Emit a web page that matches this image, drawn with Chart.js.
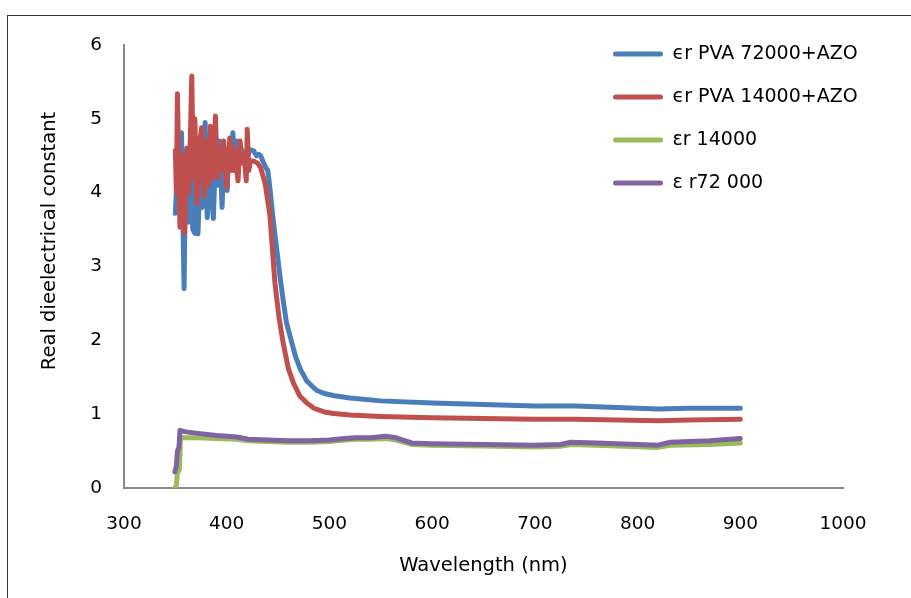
<!DOCTYPE html>
<html>
<head>
<meta charset="utf-8">
<script src="https://cdn.jsdelivr.net/npm/chart.js@4.4.1/dist/chart.umd.min.js"></script>
<style>
  html, body { margin: 0; padding: 0; background: #fff; overflow: hidden; }
  #frame { position: absolute; left: 7px; top: 15px; width: 960px; height: 640px; border: 1px solid #333; }
  #wrap { position: absolute; left: 0; top: 0; width: 911px; height: 598px; }
</style>
</head>
<body>
<div id="frame"></div>
<div id="wrap"><canvas id="c" width="911" height="598"></canvas></div>
<script>
const seriesLabels = ['\u03f5r PVA 72000+AZO', '\u03f5r PVA 14000+AZO', '\u03b5r 14000', '\u03b5 r72 000'];
const seriesColors = ['#4A7EBB', '#C0504D', '#9BBB59', '#8064A2'];
const xTickValues = [300, 400, 500, 600, 700, 800, 900, 1000];
const yTickValues = [0, 1, 2, 3, 4, 5, 6];

const blueX = [350,352,354,356,357,358.5,360,361.5,363,365,367,369,370.5,372,374,376,377.5,379,381,383,385,387,389,391,393,395.5,397,399,400.5,402,404,406,408,410,412,414,416,418,420,423,426,429,431,433,436,438,440,442,445,449,452,455,458,462,467,472,478,483,488,495,505,520,550,600,650,700,740,780,820,850,900];
const blueY = [3.72,4.3,4.5,4.81,3.9,2.70,4.4,4.6,3.6,4.3,3.5,3.45,4.5,3.44,4.2,3.8,4.6,4.95,3.66,4.4,4.0,3.65,4.5,4.1,4.7,3.8,4.5,4.3,4.03,4.6,4.4,4.81,4.3,4.7,4.4,4.6,4.45,4.55,4.5,4.58,4.57,4.5,4.52,4.5,4.4,4.34,4.3,4.07,3.66,3.2,2.85,2.54,2.25,2.04,1.78,1.6,1.45,1.38,1.32,1.28,1.25,1.22,1.18,1.15,1.13,1.11,1.11,1.09,1.07,1.08,1.08];

const redX = [350,351,352,353.5,354.5,356,357.5,359,361,363,364.5,366,367.5,369,371,373,375.5,377,378,380,382,384,386,387.5,389,391,393,395,397,400,403,405,407,409,411,413,415,417,419,420,421.5,423,426,430,433,437.5,442,447,451,455,460,465,471,478,485,495,504,520,550,600,650,700,740,780,820,850,900];
const redY = [4.57,4.0,5.34,4.2,3.53,4.5,3.6,3.45,4.6,4.0,4.7,5.58,4.2,5.0,3.85,4.6,4.88,4.2,3.95,4.7,4.1,4.9,4.2,4.5,5.04,4.2,4.6,4.3,4.7,4.07,4.74,4.3,4.6,4.4,4.16,4.7,4.4,4.5,4.16,4.86,4.3,4.43,4.43,4.4,4.34,4.12,3.7,2.77,2.3,1.96,1.62,1.42,1.25,1.15,1.08,1.03,1.01,0.99,0.97,0.95,0.94,0.93,0.93,0.92,0.91,0.92,0.93];

const greenX = [350,351,352,354,355,372,390,410,421,440,460,480,500,515,525,540,555,565,580,600,650,700,725,735,760,800,820,832,870,900];
const greenY = [0.0,0.05,0.2,0.25,0.68,0.68,0.67,0.66,0.64,0.63,0.62,0.62,0.63,0.65,0.66,0.66,0.67,0.65,0.59,0.58,0.57,0.555,0.565,0.59,0.58,0.56,0.55,0.58,0.59,0.61];

const purpleX = [349.5,351,352,353.5,354.5,360,372,390,410,421,440,460,480,500,515,525,540,555,565,580,600,650,700,725,735,760,800,820,832,870,900];
const purpleY = [0.22,0.3,0.5,0.55,0.78,0.76,0.74,0.71,0.69,0.66,0.65,0.64,0.64,0.65,0.67,0.68,0.68,0.70,0.68,0.61,0.60,0.59,0.58,0.59,0.62,0.61,0.59,0.58,0.62,0.64,0.67];

function pts(xs, ys) { return xs.map((x, i) => ({ x: x, y: ys[i] })); }

const allX = [blueX, redX, greenX, purpleX];
const allY = [blueY, redY, greenY, purpleY];
const drawOrder = [4, 3, 2, 1];
const FONT = '"DejaVu Sans"';

const datasets = seriesLabels.map((lab, i) => ({
  label: lab,
  data: pts(allX[i], allY[i]),
  borderColor: seriesColors[i],
  backgroundColor: seriesColors[i],
  borderWidth: 5,
  borderJoinStyle: 'round',
  borderCapStyle: 'round',
  pointRadius: 0,
  tension: 0,
  order: drawOrder[i]
}));

const legendMover = {
  id: 'legendMover',
  afterLayout(chart) {
    const lg = chart.legend;
    if (!lg) return;
    const pad = chart.options.plugins.legend.labels.padding;
    const w = lg.right - lg.left;
    lg.left = 613 - pad;
    lg.right = lg.left + w;
    lg.top = 44.5 - pad;
  }
};

const yTitle = {
  id: 'yTitle',
  afterDraw(chart) {
    const ctx = chart.ctx;
    ctx.save();
    ctx.translate(50, 241);
    ctx.rotate(-Math.PI / 2);
    ctx.font = '19.5px ' + FONT;
    ctx.fillStyle = '#000';
    ctx.textAlign = 'center';
    ctx.textBaseline = 'middle';
    ctx.fillText('Real dieelectrical constant', 0, 0);
    ctx.restore();
  }
};

new Chart(document.getElementById('c'), {
  type: 'line',
  data: { datasets: datasets },
  plugins: [legendMover, yTitle],
  options: {
    responsive: false,
    animation: false,
    layout: { padding: { left: 0, top: 45, right: 68, bottom: 0 } },
    plugins: {
      tooltip: { enabled: false },
      legend: {
        position: 'chartArea',
        align: 'start',
        labels: {
          font: { family: FONT, size: 19 },
          color: '#000',
          boxWidth: 50,
          boxHeight: 5,
          padding: 24,
          generateLabels(chart) {
            return chart.data.datasets.map((ds, i) => ({
              text: ds.label,
              fillStyle: ds.borderColor,
              strokeStyle: ds.borderColor,
              lineWidth: 0,
              borderRadius: 2.5,
              fontColor: '#000',
              datasetIndex: i,
              hidden: false
            }));
          }
        }
      }
    },
    scales: {
      x: {
        type: 'linear',
        min: 300,
        max: 1000,
        afterFit(s) { s.height = 110; },
        afterBuildTicks(s) { s.ticks = xTickValues.map(v => ({ value: v })); },
        grid: { display: false, drawTicks: false },
        border: { display: true, color: '#8a8a8a', width: 2 },
        ticks: { font: { family: FONT, size: 18.5 }, color: '#000', padding: 25, maxRotation: 0, callback: v => String(v) },
        title: { display: true, text: 'Wavelength (nm)', font: { family: FONT, size: 19.5 }, color: '#000', padding: { top: 0, bottom: 20 } }
      },
      y: {
        type: 'linear',
        min: 0,
        max: 6,
        afterFit(s) { s.width = 124; },
        afterBuildTicks(s) { s.ticks = yTickValues.map(v => ({ value: v })); },
        grid: { display: false, drawTicks: false },
        border: { display: true, color: '#8a8a8a', width: 2 },
        ticks: { font: { family: FONT, size: 18.5 }, color: '#000', padding: 22, callback: v => String(v) }
      }
    }
  }
});
</script>
</body>
</html>
